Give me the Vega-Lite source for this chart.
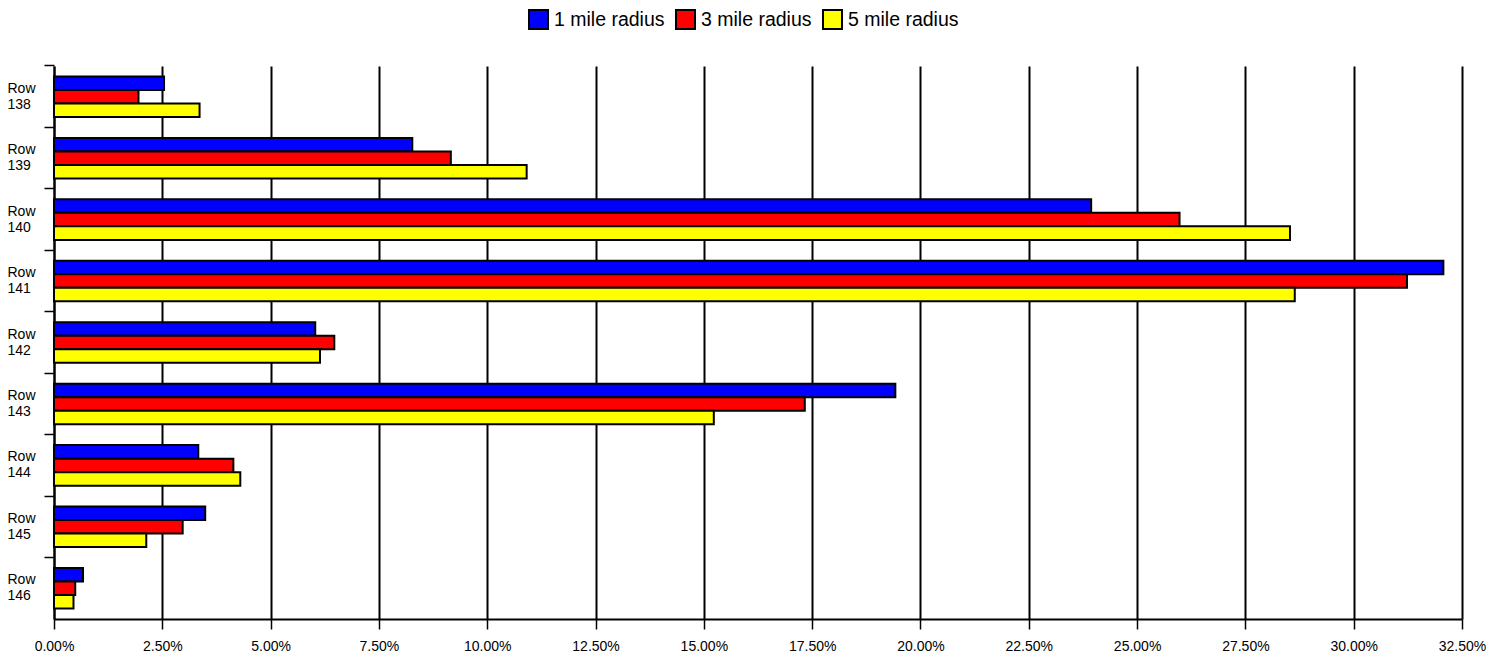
{
  "$schema": "https://vega.github.io/schema/vega-lite/v6.json",
  "autosize": {"type": "none"},
  "padding": {"left": 54, "top": 66, "right": 40, "bottom": 39},
  "width": 1408,
  "height": 553,
  "background": "white",
  "config": {
    "view": {"stroke": null},
    "font": "Liberation Sans",
    "axis": {"labelFont": "Liberation Sans", "labelColor": "black", "labelFontSize": 14, "domainColor": "black", "tickColor": "black"},
    "legend": {"labelFont": "Liberation Sans"}
  },
  "data": {
    "values": [
      {"row": "Row 138", "series": "1 mile radius", "value": 0.0254},
      {"row": "Row 138", "series": "3 mile radius", "value": 0.0195},
      {"row": "Row 138", "series": "5 mile radius", "value": 0.0336},
      {"row": "Row 139", "series": "1 mile radius", "value": 0.0827},
      {"row": "Row 139", "series": "3 mile radius", "value": 0.0916},
      {"row": "Row 139", "series": "5 mile radius", "value": 0.1091},
      {"row": "Row 140", "series": "1 mile radius", "value": 0.2394},
      {"row": "Row 140", "series": "3 mile radius", "value": 0.2598},
      {"row": "Row 140", "series": "5 mile radius", "value": 0.2853},
      {"row": "Row 141", "series": "1 mile radius", "value": 0.3207},
      {"row": "Row 141", "series": "3 mile radius", "value": 0.3123},
      {"row": "Row 141", "series": "5 mile radius", "value": 0.2864},
      {"row": "Row 142", "series": "1 mile radius", "value": 0.0603},
      {"row": "Row 142", "series": "3 mile radius", "value": 0.0647},
      {"row": "Row 142", "series": "5 mile radius", "value": 0.0614},
      {"row": "Row 143", "series": "1 mile radius", "value": 0.1942},
      {"row": "Row 143", "series": "3 mile radius", "value": 0.1733},
      {"row": "Row 143", "series": "5 mile radius", "value": 0.1523},
      {"row": "Row 144", "series": "1 mile radius", "value": 0.0333},
      {"row": "Row 144", "series": "3 mile radius", "value": 0.0414},
      {"row": "Row 144", "series": "5 mile radius", "value": 0.0430},
      {"row": "Row 145", "series": "1 mile radius", "value": 0.0349},
      {"row": "Row 145", "series": "3 mile radius", "value": 0.0297},
      {"row": "Row 145", "series": "5 mile radius", "value": 0.0213},
      {"row": "Row 146", "series": "1 mile radius", "value": 0.0067},
      {"row": "Row 146", "series": "3 mile radius", "value": 0.0049},
      {"row": "Row 146", "series": "5 mile radius", "value": 0.0045}
    ]
  },
  "mark": {"type": "bar", "stroke": "black", "strokeWidth": 2, "cornerRadius": 0},
  "encoding": {
    "y": {
      "field": "row",
      "type": "nominal",
      "sort": null,
      "scale": {"paddingInner": 0.34, "paddingOuter": 0.17},
      "axis": {
        "title": null,
        "bandPosition": -0.2576,
        "tickSize": 10,
        "tickWidth": 1.5,
        "domainWidth": 2,
        "labelAlign": "left",
        "labelPadding": 37,
        "labelBaseline": "middle",
        "labelLineHeight": 16,
        "labelOffset": -8,
        "labelExpr": "split(datum.label, ' ')",
        "grid": false
      }
    },
    "yOffset": {
      "field": "series",
      "type": "nominal",
      "scale": {"paddingInner": 0, "paddingOuter": 0}
    },
    "x": {
      "field": "value",
      "type": "quantitative",
      "scale": {"domain": [0, 0.325], "nice": false, "zero": true},
      "axis": {
        "title": null,
        "format": ".2%",
        "values": [0, 0.025, 0.05, 0.075, 0.1, 0.125, 0.15, 0.175, 0.2, 0.225, 0.25, 0.275, 0.3, 0.325],
        "grid": true,
        "gridColor": "black",
        "gridWidth": 2,
        "gridOpacity": 1,
        "tickSize": 10,
        "tickWidth": 1.5,
        "domainWidth": 2,
        "labelPadding": 10,
        "labelFlush": false
      }
    },
    "color": {
      "field": "series",
      "type": "nominal",
      "scale": {"domain": ["1 mile radius", "3 mile radius", "5 mile radius"], "range": ["#0000FF", "#FF0000", "#FFFF00"]},
      "legend": {
        "title": null,
        "orient": "none",
        "direction": "horizontal",
        "legendX": 474,
        "legendY": -57,
        "symbolType": "square",
        "symbolSize": 361,
        "symbolStrokeColor": "black",
        "symbolStrokeWidth": 2,
        "symbolOpacity": 1,
        "labelFontSize": 19.5,
        "labelColor": "black",
        "labelOffset": 5,
        "columnPadding": 7
      }
    }
  }
}
